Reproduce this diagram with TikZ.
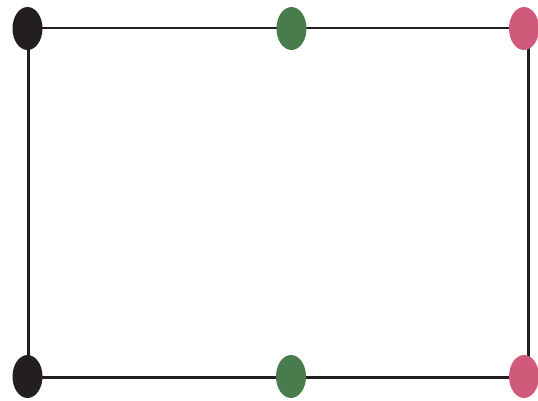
\documentclass[tikz,border=0pt]{standalone}
\usepackage{xcolor}
\usepackage{tikz}
\usetikzlibrary{shapes.geometric}
\definecolor{dotblack}{RGB}{35,31,32}
\definecolor{dotgreen}{RGB}{73,124,77}
\definecolor{dotpink}{RGB}{207,90,122}

\begin{document}
\begin{tikzpicture}[x=1pt,y=-1pt,
  dot/.style={ellipse, inner sep=0pt, minimum width=30pt, minimum height=43pt}]
\useasboundingbox (0,0) rectangle (538,401);
\coordinate (nw) at (28.5,28);
\coordinate (ne) at (528.5,28);
\coordinate (se) at (528.5,377.5);
\coordinate (sw) at (28.5,377.5);
\draw[line width=2.4pt, color=dotblack] (nw) -- (ne) -- (se) -- (sw) -- cycle;
\node[dot, fill=dotblack] (tl) at (27.5,28.5) {};
\node[dot, fill=dotgreen] (tm) at (291.5,28.5) {};
\node[dot, fill=dotpink] (tr) at (524,28.5) {};
\node[dot, fill=dotblack] (bl) at (27.5,376.5) {};
\node[dot, fill=dotgreen] (bm) at (291,376.5) {};
\node[dot, fill=dotpink] (br) at (524,376.5) {};
\end{tikzpicture}
\end{document}
